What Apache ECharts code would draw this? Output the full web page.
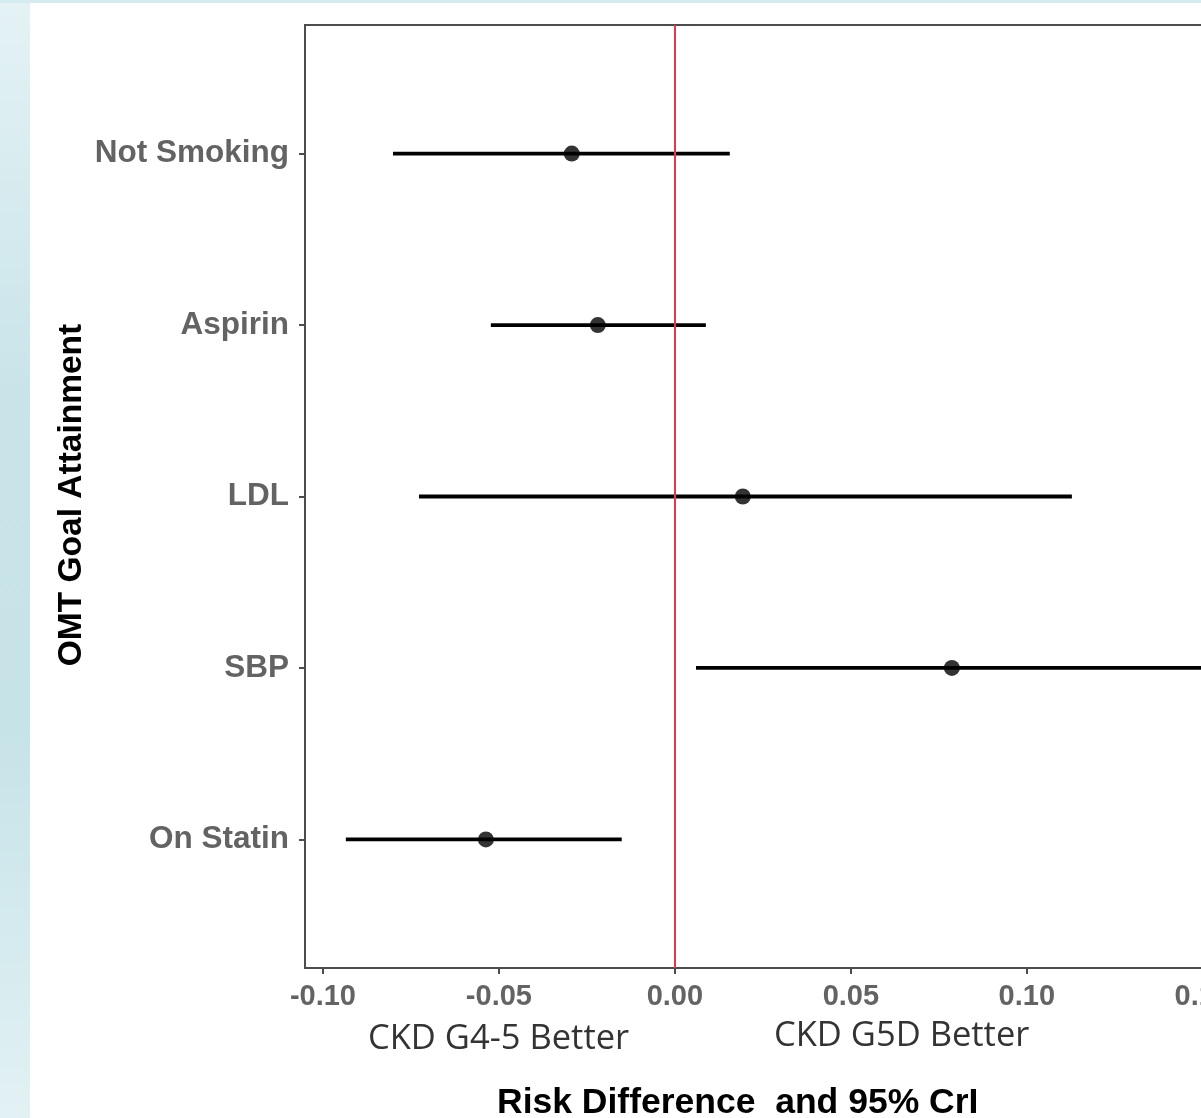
<!DOCTYPE html>
<html><head><meta charset="utf-8">
<script src="https://cdn.jsdelivr.net/npm/echarts@6/dist/echarts.min.js"></script>
<style>html,body{margin:0;padding:0;overflow:hidden;background:#fff}#c{width:1260px;height:1118px}</style>
</head><body><div id="c"></div>
<script>
const categories = ['On Statin', 'SBP', 'LDL', 'Aspirin', 'Not Smoking'];
const estimates = [-0.0537, 0.0787, 0.0193, -0.0219, -0.0293];
const lowerCrI = [-0.0935, 0.0060, -0.0727, -0.0523, -0.0801];
const upperCrI = [-0.0151, 0.1500, 0.1128, 0.0088, 0.0156];
const xTickValues = [-0.10, -0.05, 0.00, 0.05, 0.10, 0.15];
const yTickValues = [1, 2, 3, 4, 5];

const FONT = '"Liberation Sans", Arial, sans-serif';
const chart = echarts.init(document.getElementById('c'), null, {renderer: 'canvas'});

const option = {
  backgroundColor: '#ffffff',
  animation: false,
  graphic: [
    {type: 'rect', silent: true, z: -10, shape: {x: 0, y: 0, width: 30, height: 1118},
     style: {fill: new echarts.graphic.LinearGradient(0, 0, 0, 1, [
       {offset: 0, color: '#e4f2f5'}, {offset: 0.35, color: '#c9e4e9'},
       {offset: 0.65, color: '#c6e3e8'}, {offset: 1, color: '#e2f1f4'}])}},
    {type: 'rect', silent: true, z: -10, shape: {x: 0, y: 0, width: 1260, height: 3},
     style: {fill: '#d5ebef'}},
    {type: 'text', x: 72, y: 495, rotation: Math.PI / 2,
     style: {text: 'OMT Goal Attainment', fontFamily: FONT, fontWeight: 'bold', fontSize: 33.5, fill: '#000000',
             align: 'center', verticalAlign: 'middle'}},
    {type: 'text', left: 368, top: 1022,
     style: {text: 'CKD G4-5 Better', fontFamily: '"Open Sans", sans-serif', fontSize: 34.5, fill: '#333333'}},
    {type: 'text', left: 774, top: 1019,
     style: {text: 'CKD G5D Better', fontFamily: '"Open Sans", sans-serif', fontSize: 34.5, fill: '#333333'}},
    {type: 'text', left: 497, top: 1085,
     style: {text: 'Risk Difference  and 95% CrI', fontFamily: FONT, fontWeight: 'bold', fontSize: 35.5, fill: '#000000'}}
  ],
  grid: {left: 305, top: 25, width: 933, height: 943, show: true, borderColor: '#4d4d4d', borderWidth: 2, backgroundColor: 'transparent'},
  xAxis: {
    type: 'value', min: -0.1051, max: 0.16,
    splitLine: {show: false},
    axisLine: {show: true, onZero: false, lineStyle: {color: '#4d4d4d', width: 2}},
    axisTick: {show: true, length: 6, customValues: xTickValues, lineStyle: {color: '#4d4d4d', width: 2}},
    axisLabel: {customValues: xTickValues, margin: 14, fontFamily: FONT, fontWeight: 'bold', fontSize: 29, color: '#636363',
      formatter: v => v.toFixed(2)}
  },
  yAxis: {
    type: 'value', min: 0.25, max: 5.75,
    splitLine: {show: false},
    axisLine: {show: true, onZero: false, lineStyle: {color: '#4d4d4d', width: 2}},
    axisTick: {show: true, length: 6, customValues: yTickValues, lineStyle: {color: '#4d4d4d', width: 2}},
    axisLabel: {customValues: yTickValues, margin: 16, fontFamily: FONT, fontWeight: 'bold', fontSize: 31.5, color: '#636363',
      formatter: v => categories[Math.round(v) - 1] || ''}
  },
  series: [
    {
      type: 'custom',
      data: categories.map((c, i) => [i + 1, lowerCrI[i], upperCrI[i]]),
      encode: {x: [1, 2], y: 0},
      renderItem: (params, api) => {
        const y = api.value(0);
        const p1 = api.coord([api.value(1), y]);
        const p2 = api.coord([api.value(2), y]);
        return {type: 'line', shape: {x1: p1[0], y1: p1[1], x2: p2[0], y2: p2[1]},
                style: {stroke: '#000000', lineWidth: 3.8}};
      },
      z: 3
    },
    {
      type: 'scatter',
      data: estimates.map((e, i) => [e, i + 1]),
      symbol: 'circle', symbolSize: 16,
      itemStyle: {color: '#000000'},
      z: 4,
      markLine: {
        silent: true, symbol: 'none', animation: false,
        label: {show: false},
        lineStyle: {color: '#e8364a', width: 2, type: 'solid'},
        data: [{xAxis: 0}]
      }
    }
  ]
};
chart.setOption(option);
</script></body></html>
